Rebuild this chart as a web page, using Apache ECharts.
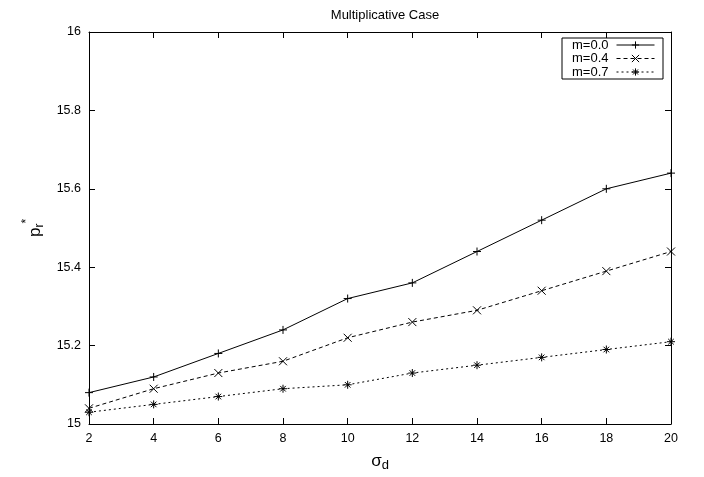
<!DOCTYPE html>
<html>
<head>
<meta charset="utf-8">
<script src="https://cdn.jsdelivr.net/npm/echarts@6/dist/echarts.min.js"></script>
<style>
  html, body { margin: 0; padding: 0; background: #fff; }
  #chart { width: 704px; height: 477px; }
</style>
</head>
<body>
<div id="chart"></div>
<script>
// sigma_d values on the x axis
var sigmaD = [2, 4, 6, 8, 10, 12, 14, 16, 18, 20];
// p_r* for each m
var m00 = [15.08, 15.12, 15.18, 15.24, 15.32, 15.36, 15.44, 15.52, 15.60, 15.64];
var m04 = [15.04, 15.09, 15.13, 15.16, 15.22, 15.26, 15.29, 15.34, 15.39, 15.44];
var m07 = [15.03, 15.05, 15.07, 15.09, 15.10, 15.13, 15.15, 15.17, 15.19, 15.21];

var seriesNames = ['m=0.0', 'm=0.4', 'm=0.7'];

function pairs(ys) {
  return sigmaD.map(function (x, i) { return [x, ys[i]]; });
}

// gnuplot style point types: plus, cross, star
var plusPath = 'path://M5,0L5,10M0,5L10,5';
var crossPath = 'path://M0,0L10,10M10,0L0,10';
var starPath = 'path://M5,0L5,10M0,5L10,5M1.5,1.5L8.5,8.5M8.5,1.5L1.5,8.5';

var font = 'Liberation Sans, Arial, sans-serif';

var chart = echarts.init(document.getElementById('chart'));

function axisBase(extra) {
  var a = {
    axisLine: { show: true, onZero: false, lineStyle: { color: '#000', width: 1 } },
    axisTick: { show: true, inside: true, length: 6, lineStyle: { color: '#000' } },
    splitLine: { show: false },
    axisLabel: { color: '#000', fontFamily: font, fontSize: 12.5 }
  };
  for (var k in extra) a[k] = extra[k];
  return a;
}

function makeSeries(name, ys, sym, dash) {
  return {
    name: name,
    type: 'line',
    xAxisIndex: 0,
    yAxisIndex: 0,
    data: pairs(ys),
    symbol: sym,
    symbolSize: 8,
    showAllSymbol: true,
    animation: false,
    lineStyle: { color: '#000', width: 1, type: dash },
    itemStyle: { color: 'rgba(0,0,0,0)', borderColor: '#000', borderWidth: 1 }
  };
}

var option = {
  backgroundColor: '#fff',
  animation: false,
  title: {
    text: 'Multiplicative Case',
    left: 380,
    textAlign: 'center',
    top: 4,
    textStyle: { color: '#000', fontFamily: font, fontSize: 13, fontWeight: 'normal' }
  },
  legend: {
    data: seriesNames,
    orient: 'vertical',
    right: 41,
    top: 38,
    align: 'right',
    itemWidth: 38,
    itemHeight: 9,
    itemGap: 0.5,
    padding: [0.5, 8, 0.5, 10],
    borderColor: '#000',
    borderWidth: 1,
    borderRadius: 0,
    backgroundColor: '#fff',
    lineStyle: { width: 1 },
    itemStyle: { borderWidth: 1, color: 'rgba(0,0,0,0)', borderColor: '#000' },
    textStyle: { color: '#000', fontFamily: font, fontSize: 13, padding: [0, 3, 0, 0] }
  },
  grid: { left: 89, right: 33, top: 32, bottom: 47 },
  xAxis: [
    axisBase({
      type: 'value', min: 2, max: 20, interval: 2, position: 'bottom',
      name: '{a|σ}{s|d}', nameLocation: 'middle', nameGap: 26,
      nameTextStyle: {
        rich: {
          a: { fontFamily: font, fontSize: 17, color: '#000' },
          s: { fontFamily: font, fontSize: 13, color: '#000', padding: [9, 0, 0, 0] }
        }
      }
    }),
    axisBase({
      type: 'value', min: 2, max: 20, interval: 2, position: 'top',
      axisLabel: { show: false }
    })
  ],
  yAxis: [
    axisBase({
      type: 'value', min: 15, max: 16, interval: 0.2, position: 'left',
      name: '{a|p}{s|r}{t|*}', nameLocation: 'middle', nameGap: 34, nameRotate: 90,
      nameTextStyle: {
        rich: {
          a: { fontFamily: font, fontSize: 17, color: '#000' },
          s: { fontFamily: font, fontSize: 12, color: '#000', padding: [8, 0, 0, 0] },
          t: { fontFamily: font, fontSize: 12, color: '#000', padding: [0, 0, 18, 0] }
        }
      }
    }),
    axisBase({
      type: 'value', min: 15, max: 16, interval: 0.2, position: 'right',
      axisLabel: { show: false }
    })
  ],
  series: [
    makeSeries(seriesNames[0], m00, plusPath, 'solid'),
    makeSeries(seriesNames[1], m04, crossPath, [4, 3]),
    makeSeries(seriesNames[2], m07, starPath, [2, 3])
  ]
};

chart.setOption(option);
</script>
</body>
</html>
